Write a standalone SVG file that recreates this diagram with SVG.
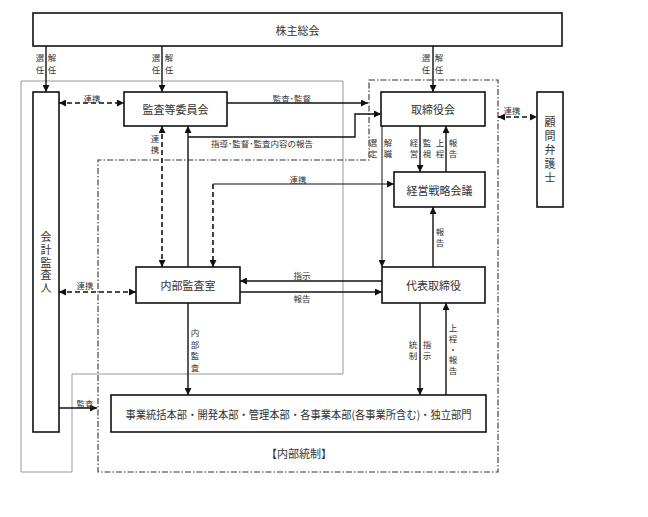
<svg xmlns="http://www.w3.org/2000/svg" width="648" height="517" viewBox="0 0 648 517">
<style>
.box{fill:#fff;stroke:#111;stroke-width:1.6}
.t{font-family:"Noto Sans CJK JP","Noto Sans CJK SC",sans-serif;font-size:11px;fill:#333;text-anchor:middle;dominant-baseline:central}
.s{font-size:8.5px}
.v{writing-mode:vertical-rl;text-orientation:upright}
.ln{fill:none;stroke:#111;stroke-width:1.4}
.thin{stroke-width:1}
.dash{stroke-dasharray:5,3;stroke-width:1.6}
.gray{fill:none;stroke:#999;stroke-width:1}
.dd{fill:none;stroke:#333;stroke-width:1.1;stroke-dasharray:6,2,1.5,2}
</style>
<defs>
<marker id="ah" viewBox="0 0 7 7" markerWidth="7" markerHeight="7" refX="7" refY="3.5" orient="auto-start-reverse" markerUnits="userSpaceOnUse">
<path d="M0,0 L7,3.5 L0,7 z" fill="#111"/>
</marker>
</defs>
<g id="regions">
<path class="gray" d="M21,81 H343 V374 H72 V472 H21 Z"/>
<path class="dd" d="M369,80 H498 V472 H98 V160 H369 Z"/>
</g>
<g id="connectors">
<path class="ln" d="M46,46 V92" marker-end="url(#ah)"/>
<path class="ln" d="M162,46 V92" marker-end="url(#ah)"/>
<path class="ln" d="M433,46 V92" marker-end="url(#ah)"/>
<path class="ln dash" d="M59,103 H124" marker-start="url(#ah)" marker-end="url(#ah)"/>
<path class="ln" d="M227,103 H368" marker-end="url(#ah)"/>
<path class="ln" d="M188,267 V126" marker-end="url(#ah)"/>
<path class="ln" d="M188,137 H355 V114 H381" marker-end="url(#ah)"/>
<path class="ln dash" d="M162,126 V267" marker-start="url(#ah)" marker-end="url(#ah)"/>
<path class="ln dash" d="M213,184 V267" marker-end="url(#ah)"/>
<path class="ln thin" d="M213,184 H394" marker-end="url(#ah)"/>
<path class="ln thin" d="M382,126 V267" marker-end="url(#ah)"/>
<path class="ln" d="M420,126 V172" marker-end="url(#ah)"/>
<path class="ln" d="M446,172 V126" marker-end="url(#ah)"/>
<path class="ln dash" d="M498,117 H537" marker-start="url(#ah)" marker-end="url(#ah)"/>
<path class="ln" d="M433,267 V207" marker-end="url(#ah)"/>
<path class="ln" d="M382,281 H240" marker-end="url(#ah)"/>
<path class="ln" d="M240,292 H382" marker-end="url(#ah)"/>
<path class="ln dash" d="M59,292 H136" marker-start="url(#ah)" marker-end="url(#ah)"/>
<path class="ln" d="M188,303 V395" marker-end="url(#ah)"/>
<path class="ln" d="M59,408 H97" marker-end="url(#ah)"/>
<path class="ln" d="M420,303 V395" marker-end="url(#ah)"/>
<path class="ln" d="M446,395 V303" marker-end="url(#ah)"/>
</g>
<g id="labels">
<text class="t s v" x="40" y="65.5" letter-spacing="3.5">選任</text>
<text class="t s v" x="52" y="65.5" letter-spacing="3.5">解任</text>
<text class="t s v" x="156" y="65.5" letter-spacing="3.5">選任</text>
<text class="t s v" x="169" y="65.5" letter-spacing="3.5">解任</text>
<text class="t s v" x="426" y="65.5" letter-spacing="3.5">選任</text>
<text class="t s v" x="439" y="65.5" letter-spacing="3.5">解任</text>
<text class="t s" x="92" y="98">連携</text>
<text class="t s" x="292" y="98">監査･監督</text>
<text class="t s" x="262" y="143">指導･監督･監査内容の報告</text>
<text class="t s v" x="155" y="145.7" letter-spacing="2.5">連携</text>
<text class="t s v" x="373" y="149.7" letter-spacing="2.5">選定</text>
<text class="t s v" x="388" y="149.7" letter-spacing="2.5">解職</text>
<text class="t s v" x="414" y="149.7" letter-spacing="2.5">経営</text>
<text class="t s v" x="427" y="149.7" letter-spacing="2.5">監視</text>
<text class="t s v" x="440" y="149.7" letter-spacing="2.5">上程</text>
<text class="t s v" x="453" y="149.7" letter-spacing="2.5">報告</text>
<text class="t s" x="298" y="179">連携</text>
<text class="t s" x="512" y="110">連携</text>
<text class="t s v" x="440" y="238.7" letter-spacing="2.5">報告</text>
<text class="t s" x="302" y="275">指示</text>
<text class="t s" x="302" y="298">報告</text>
<text class="t s" x="85" y="285">連携</text>
<text class="t s v" x="195" y="352" letter-spacing="3.2">内部監査</text>
<text class="t s" x="85" y="403">監査</text>
<text class="t s v" x="413" y="351.7" letter-spacing="2.5">統制</text>
<text class="t s v" x="427" y="351.7" letter-spacing="2.5">指示</text>
<text class="t s v" x="453" y="350.6" letter-spacing="2.25">上程・報告</text>
<text class="t" x="299" y="453">【内部統制】</text>
</g>
<g id="n-kabunushi">
<rect class="box" x="33" y="13" width="529" height="33"/>
<text class="t" x="297.5" y="29.5">株主総会</text>
</g>
<g id="n-kaikei">
<rect class="box" x="33" y="92" width="26" height="340"/>
<text class="t v" x="46" y="263.4" letter-spacing="1.75">会計監査人</text>
</g>
<g id="n-kansa">
<rect class="box" x="124" y="92" width="103" height="34"/>
<text class="t" x="175.5" y="109">監査等委員会</text>
</g>
<g id="n-torishimari">
<rect class="box" x="381" y="92" width="104" height="34"/>
<text class="t" x="433" y="109">取締役会</text>
</g>
<g id="n-komon">
<rect class="box" x="537" y="92" width="26" height="115"/>
<text class="t v" x="550" y="151.5" letter-spacing="3">顧問弁護士</text>
</g>
<g id="n-keiei">
<rect class="box" x="394" y="172" width="91" height="35"/>
<text class="t" x="439.5" y="189.5">経営戦略会議</text>
</g>
<g id="n-naibu">
<rect class="box" x="136" y="267" width="104" height="36"/>
<text class="t" x="188" y="285">内部監査室</text>
</g>
<g id="n-daihyo">
<rect class="box" x="382" y="267" width="103" height="36"/>
<text class="t" x="433.5" y="285">代表取締役</text>
</g>
<g id="n-jigyo">
<rect class="box" x="111" y="395" width="375" height="37"/>
<text class="t" x="298.5" y="413.5" font-size="10" textLength="346" lengthAdjust="spacingAndGlyphs">事業統括本部・開発本部・管理本部・各事業本部(各事業所含む)・独立部門</text>
</g>
</svg>
